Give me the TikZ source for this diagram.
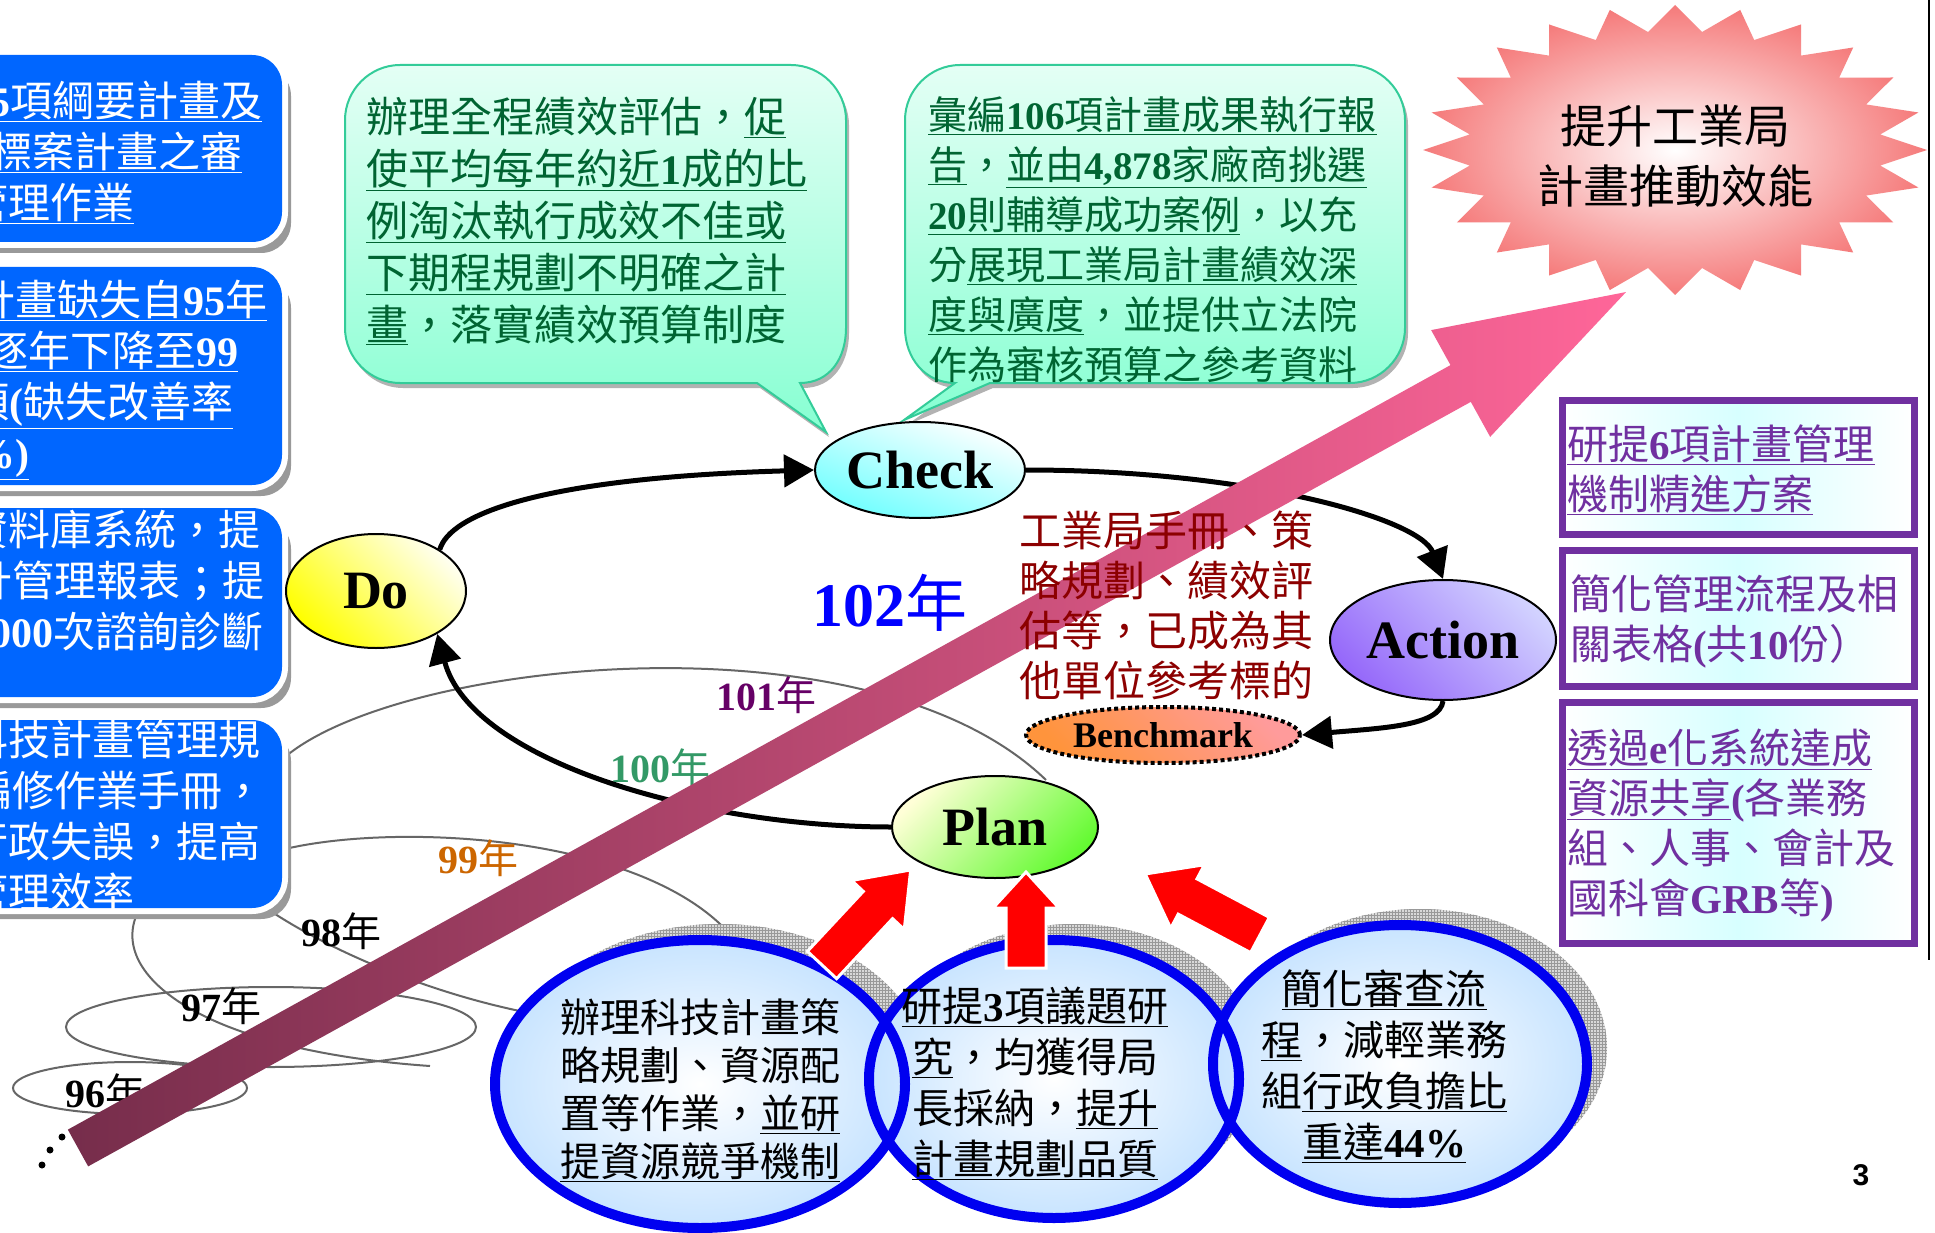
\documentclass[tikz,border=0pt]{standalone}
\usepackage{fontspec}
\setmainfont{Liberation Serif}
\newfontfamily\cjk{Noto Sans CJK TC}
\newfontfamily\romfont{Liberation Serif}
\newfontfamily\pgnumfont{Liberation Sans}
\usetikzlibrary{positioning, arrows.meta, shapes.geometric, patterns, shadows}

\definecolor{boxblue}{RGB}{0,102,255}
\definecolor{bubtext}{RGB}{0,100,50}
\definecolor{bubedge}{RGB}{51,204,153}
\definecolor{bubtop}{RGB}{228,255,245}
\definecolor{bubbot}{RGB}{135,255,210}
\definecolor{starpink}{RGB}{245,122,122}
\definecolor{mgmtpurple}{RGB}{112,48,160}
\definecolor{mgmtcyan}{RGB}{215,255,255}
\definecolor{benchred}{RGB}{140,0,0}
\definecolor{bandlow}{RGB}{118,45,75}
\definecolor{bandhigh}{RGB}{255,102,153}
\definecolor{ringblue}{RGB}{0,0,240}
\definecolor{ringfill}{RGB}{200,228,255}
\definecolor{yr101}{RGB}{102,0,102}
\definecolor{yr100}{RGB}{51,153,102}
\definecolor{yr99}{RGB}{204,102,0}
\definecolor{checkcyan}{RGB}{110,255,255}
\definecolor{actdark}{RGB}{150,105,250}
\definecolor{actlight}{RGB}{210,210,255}
\definecolor{planlight}{RGB}{255,255,215}
\definecolor{plangreen}{RGB}{100,250,50}
\definecolor{benchorange}{RGB}{255,148,60}
\definecolor{benchpink}{RGB}{255,155,155}

\newcommand{\setfs}[2]{\fontsize{#1}{#2}\selectfont}
\newcommand{\tnum}[1]{{\romfont\bfseries #1}}

\begin{document}
\begin{tikzpicture}[x=1pt, y=-1pt,
  every node/.style={inner sep=0pt},
  blktxt/.style={align=left, anchor=west, text=white, font=\cjk\setfs{42}{51}},
  bubtxt/.style={align=left, anchor=west, text=bubtext},
  bubble/.style={draw=bubedge, line width=2, top color=bubtop, bottom color=bubbot,
    drop shadow={shadow xshift=3pt, shadow yshift=-5pt, fill=black!30, opacity=1}},
  phase/.style={ellipse, draw, line width=2, font=\romfont\bfseries\setfs{54}{54}},
  cyc/.style={line width=5, -{Triangle[length=30pt,width=32pt]}},
  yrloop/.style={draw=black!60, line width=2},
  yearlbl/.style={font=\cjk\setfs{40}{40}},
  mgmtbox/.style={draw=mgmtpurple, line width=7, left color=white, right color=white, middle color=mgmtcyan},
  mgmttxt/.style={align=left, anchor=west, text=mgmtpurple, font=\cjk\setfs{41}{50}},
  ringtxt/.style={align=center, font=\cjk\setfs{41}{51}}]
  \useasboundingbox (0,0) rectangle (1935,1233);
  \clip (0,0) rectangle (1935,1233);
  \fill[white] (0,0) rectangle (1935,1233);

  % Spiral of earlier years
  \draw[yrloop] (285,757) .. controls (400,660) and (870,610) .. (1046,780);
  \draw[yrloop] (285,849) .. controls (400,822) and (650,835) .. (735,940);
  \draw[yrloop] (272,912) .. controls (330,950) and (430,995) .. (540,1015);
  \draw[yrloop] (137,914) .. controls (110,975) and (200,1050) .. (430,1066);
  \draw[yrloop] (271,1027) ellipse [x radius=205, y radius=40];
  \draw[yrloop] (130,1088) ellipse [x radius=117, y radius=26];
  \foreach \yx/\yy/\yc/\yl in {766/695/yr101/101, 660/767/yr100/100, 478/858/yr99/99,
                               341/931/black/98, 221/1006/black/97, 105/1092/black/96}
    \node[yearlbl, text=\yc] (y\yl) at (\yx,\yy) {\tnum{\yl}年};

  % Blue boxes on the left, cut off by the page edge
  \foreach \ytop/\ybot in {55/242, 267/485, 508/697, 720/908}{
    \fill[black!40, rounded corners=30] (-31,\ytop+11) rectangle (291,\ybot+11);
    \draw[white, line width=12, rounded corners=30] (-40,\ytop) rectangle (282,\ybot);
    \fill[boxblue, rounded corners=30] (-40,\ytop) rectangle (282,\ybot);
  }
  \node[blktxt] (blueA) at (-34,152) {\hspace*{23pt}\underline{\tnum{5}項綱要計畫及}\\
    \hspace*{24pt}\underline{標案計畫之審}\\ \underline{管理作業}};
  \node[blktxt] (blueB) at (-34,380) {\hspace*{7pt}\underline{計畫缺失自\tnum{95}年}\\
    \hspace*{20pt}\underline{逐年下降至\tnum{99}}\\ \hspace*{1pt}\underline{項\tnum{(}缺失改善率}\\
    \hspace*{7pt}\underline{\tnum{\%)}}};
  \node[blktxt] (blueC) at (-34,581) {資料庫系統，提\\ \hspace*{4pt}計管理報表；提\\
    \hspace*{24pt}\tnum{000}次諮詢診斷};
  \node[blktxt] (blueD) at (-34,816) {科技計畫管理規\\ \hspace*{4pt}編修作業手冊，\\
    行政失誤，提高\\ 管理效率};

  % Speech bubbles over Check
  \draw[bubble] (345,120) .. controls (345,90) and (370,65) .. (400,65) -- (791,65)
    .. controls (821,65) and (846,90) .. (846,120) -- (846,328)
    .. controls (846,358) and (830,383) .. (800,383) -- (826,432) -- (757,383) -- (400,383)
    .. controls (370,383) and (345,358) .. (345,328) -- cycle;
  \node[bubtxt, font=\cjk\setfs{42}{52}] (evaltxt) at (366,221)
    {辦理全程績效評估，\underline{促}\\
     \underline{使平均每年約近\tnum{1}成的比}\\
     \underline{例淘汰執行成效不佳或}\\
     \underline{下期程規劃不明確之計}\\
     \underline{畫}，落實績效預算制度};
  \draw[bubble] (905,120) .. controls (905,90) and (930,65) .. (960,65) -- (1350,65)
    .. controls (1380,65) and (1405,90) .. (1405,120) -- (1405,328)
    .. controls (1405,358) and (1380,383) .. (1350,383) -- (990,383) -- (904,420) -- (955,383)
    .. controls (925,383) and (905,358) .. (905,328) -- cycle;
  \node[bubtxt, font=\cjk\setfs{39}{50}] (reporttxt) at (928,240)
    {\underline{彙編\tnum{106}項計畫成果執行報}\\
     \underline{告}，\underline{並由\tnum{4,878}家廠商挑選}\\
     \underline{\tnum{20}則輔導成功案例}，以充\\
     分\underline{展現工業局計畫績效深}\\
     \underline{度與廣度}，並提供立法院\\
     作為審核預算之參考資料};

  % Starburst goal
  \shade[inner color=white, outer color=starpink]
    plot[samples at={0,...,47}, variable=\k]
      ({1675+(252-45*mod(\k,2))*cos(\k*7.5-90)}, {150+(145-26*mod(\k,2))*sin(\k*7.5-90)}) -- cycle;
  \node[font=\cjk\setfs{46}{60}, align=center] (goal) at (1675,156) {提升工業局\\計畫推動效能};

  % Purple boxes on the right
  \foreach \ytop/\ybot in {400/534, 550/686, 702/943}
    \draw[mgmtbox] (1562,\ytop) rectangle (1914,\ybot);
  \node[mgmttxt] (mgmtA) at (1567,470) {\underline{研提\tnum{6}項計畫管理}\\ \underline{機制精進方案}};
  \node[mgmttxt] (mgmtB) at (1570,621) {簡化管理流程及相\\ 關表格\tnum{(}共\tnum{10}份）};
  \node[mgmttxt] (mgmtC) at (1567,826) {\underline{透過\tnum{e}化系統達成}\\
    \underline{資源共享}\tnum{(}各業務\\ 組、人事、會計及\\ 國科會\tnum{GRB}等\tnum{)}};

  % PDCA nodes
  \node[phase, minimum width=180, minimum height=114, top color=yellow!6, bottom color=yellow,
        shading angle=-45] (do) at (376,591) {Do};
  \node[phase, minimum width=210, minimum height=96, top color=white, bottom color=checkcyan,
        shading angle=-20] (check) at (920,470) {Check};
  \node[phase, minimum width=226, minimum height=120, top color=actlight, bottom color=actdark,
        shading angle=-45] (action) at (1443,640) {Action};
  \node[phase, minimum width=206, minimum height=102, top color=planlight, bottom color=plangreen,
        shading angle=45] (plan) at (995,827) {Plan};
  \node[ellipse, draw, line width=4, dash pattern=on 4pt off 3pt, minimum width=274,
        minimum height=56, top color=benchpink, bottom color=benchorange, shading angle=-45,
        font=\romfont\bfseries\setfs{36}{36}] (bench) at (1163,735) {Benchmark};

  % Cycle of the current year
  \draw[cyc] (do.33) .. controls +(10,-35) and +(-275,8) .. (check.west);
  \draw[cyc] (check.east) .. controls +(225,0) and +(-23,-60) .. (action.north);
  \draw[cyc] (action.south) .. controls +(-3,25) and +(80,-7) .. (bench.east);
  \draw[cyc] (plan.west) .. controls +(-192,0) and +(34,127) .. (do.-35);

  % Rising arrow across the cycle
  \begin{scope}[shift={(78,1148)}, rotate=28.94]
    \shade[left color=bandlow, right color=bandhigh]
      (0,-21) -- (1580,-21) -- (1580,-61) -- (1769,0) -- (1580,61) -- (1580,21) -- (0,21) -- cycle;
  \end{scope}

  \node[font=\cjk\setfs{42}{50}, text=benchred, align=left, anchor=west] (benchtxt) at (1019,605)
    {工業局手冊、策\\略規劃、績效評\\估等，已成為其\\他單位參考標的};
  \node[font=\cjk\setfs{62}{62}, text=blue] (y102) at (890,603) {\tnum{102}年};

  % Three work items feeding the plan
  \foreach \cx/\cy/\rx/\ry in {700/1084/205/144, 1054/1079/185/139, 1400/1064/187/139}{
    \fill[black!15] (\cx+20,\cy-16) ellipse [x radius=\rx, y radius=\ry];
    \fill[pattern=grid, pattern color=black!40] (\cx+20,\cy-16) ellipse [x radius=\rx, y radius=\ry];
  }
  \foreach \cx/\cy/\rx/\ry in {700/1084/205/144, 1054/1079/185/139, 1400/1064/187/139}
    \shade[inner color=white, outer color=ringfill] (\cx,\cy) ellipse [x radius=\rx, y radius=\ry];
  \foreach \cx/\cy/\rx/\ry in {700/1084/205/144, 1054/1079/185/139, 1400/1064/187/139}
    \draw[ringblue, line width=10] (\cx,\cy) ellipse [x radius=\rx, y radius=\ry];
  \node[ringtxt, font=\cjk\setfs{40}{48}] (ringA) at (700,1090)
    {辦理科技計畫策\\略規劃、資源配\\置等作業，\underline{並研}\\ \underline{提資源競爭機制}};
  \node[ringtxt] (ringB) at (1035,1083)
    {\underline{研提\tnum{3}項議題研}\\ \underline{究}，均獲得局\\ 長採納，\underline{提升}\\ \underline{計畫規劃品質}};
  \node[ringtxt] (ringC) at (1384,1066)
    {\underline{簡化審查流}\\ \underline{程}，減輕業務\\ 組\underline{行政負擔比}\\ \underline{重達\tnum{44\%}}};

  % Red block arrows up to Plan
  \foreach \ax/\ay/\ang/\len/\hl/\hw in {822/965/47/130/48/36, 1026/968/90/96/36/33, 1260/935/152/130/48/36}{
    \begin{scope}[shift={(\ax,\ay)}, rotate=\ang]
      \filldraw[fill=red, draw=white, line width=3]
        (0,-20) -- (\len-\hl,-20) -- (\len-\hl,-\hw) -- (\len,0) -- (\len-\hl,\hw) -- (\len-\hl,20) -- (0,20) -- cycle;
    \end{scope}
  }

  % Page edge, dots and page number
  \draw[line width=2] (1929,0) -- (1929,960);
  \foreach \dx/\dy in {42/1165, 50/1150, 62/1137}
    \fill (\dx,\dy) circle (3.5);
  \node[font=\pgnumfont\bfseries\setfs{30}{30}] (pagenum) at (1861,1175) {3};
\end{tikzpicture}
\end{document}
